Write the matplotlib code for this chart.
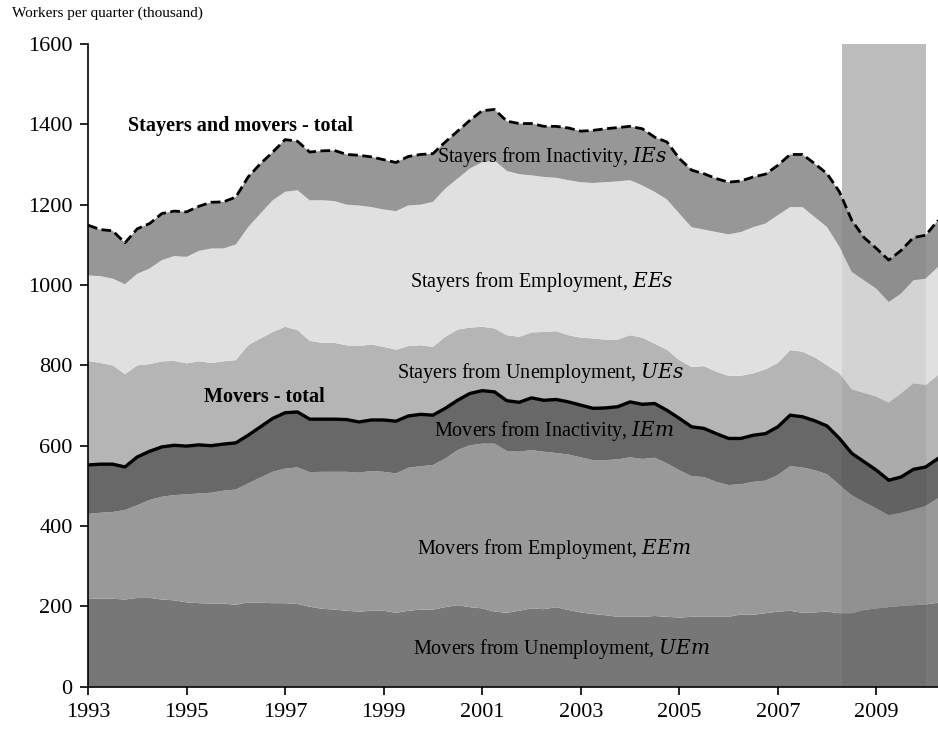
import numpy as np
import matplotlib.pyplot as plt
from matplotlib import rcParams as rcp

rcp['font.family'] = 'serif'
rcp['font.serif'] = ['Liberation Serif', 'DejaVu Serif']
rcp['mathtext.fontset'] = 'dejavuserif'

# quarterly, 1993Q1 .. 2010Q2 (thousand workers per quarter)
quarters = 1993 + 0.25 * np.arange(70)

ue_movers = [220, 219, 219, 217, 221, 221, 217, 215, 210, 208, 207, 207, 204, 210, 209, 208, 208, 206, 199, 194,
             192, 189, 187, 189, 189, 184, 189, 192, 192, 198, 203, 198, 195, 187, 184, 189, 195, 193, 198, 191,
             185, 181, 178, 174, 174, 174, 176, 174, 172, 174, 174, 174, 174, 180, 179, 183, 187, 189, 184, 185,
             187, 183, 183, 191, 195, 198, 201, 203, 205, 209]
ee_movers = [210, 214, 216, 223, 231, 244, 256, 262, 269, 273, 276, 281, 287, 296, 312, 327, 335, 340, 335, 341,
             343, 346, 346, 348, 346, 347, 356, 357, 360, 370, 386, 403, 410, 418, 403, 396, 394, 392, 384, 387,
             386, 383, 386, 392, 397, 393, 394, 382, 367, 350, 348, 336, 328, 324, 331, 330, 340, 360, 362, 354,
             342, 319, 294, 269, 249, 229, 232, 238, 245, 260]
ie_movers = [122, 121, 119, 107, 120, 121, 124, 124, 120, 121, 117, 116, 116, 120, 126, 133, 139, 138, 132, 131,
             131, 130, 126, 127, 129, 130, 129, 129, 124, 125, 124, 129, 132, 129, 125, 123, 130, 128, 133, 131,
             130, 129, 130, 131, 138, 136, 135, 132, 129, 123, 121, 120, 116, 114, 116, 117, 120, 127, 126, 123,
             120, 116, 104, 100, 95, 87, 89, 100, 97, 99]
ue_stayers = [259, 252, 246, 231, 228, 217, 213, 210, 206, 208, 206, 206, 206, 224, 220, 215, 214, 204, 195, 190,
              190, 185, 189, 188, 182, 178, 174, 172, 170, 178, 176, 164, 159, 158, 163, 163, 163, 170, 170, 166,
              168, 174, 170, 167, 166, 166, 149, 151, 145, 149, 155, 154, 156, 156, 154, 160, 159, 162, 162, 158,
              151, 162, 159, 171, 183, 193, 208, 214, 204, 208]
ee_stayers = [213, 216, 216, 224, 228, 238, 252, 261, 265, 275, 285, 281, 288, 294, 311, 328, 336, 348, 350, 355,
              353, 350, 350, 342, 342, 345, 350, 350, 361, 369, 376, 396, 410, 418, 409, 405, 391, 386, 382, 386,
              387, 387, 392, 394, 386, 379, 378, 374, 365, 348, 340, 348, 352, 358, 364, 363, 368, 356, 360, 349,
              344, 315, 293, 281, 269, 251, 249, 257, 265, 269]
ie_stayers = [125, 116, 119, 103, 112, 112, 116, 112, 112, 111, 115, 116, 118, 125, 124, 120, 130, 122, 120, 123,
              126, 125, 125, 125, 124, 121, 122, 125, 120, 116, 118, 120, 128, 127, 124, 126, 129, 126, 128, 130,
              127, 131, 133, 134, 134, 141, 136, 143, 137, 142, 139, 133, 130, 127, 125, 123, 124, 131, 131, 133,
              133, 137, 128, 106, 100, 104, 107, 106, 108, 116]

layers = [ue_movers, ee_movers, ie_movers, ue_stayers, ee_stayers, ie_stayers]
colors = ['#777777', '#999999', '#686868', '#b5b5b5', '#e0e0e0', '#979797']

recession = (2008.31, 2010.0)

movers_total = np.sum(layers[:3], axis=0)
grand_total = np.sum(layers, axis=0)

fig = plt.figure(figsize=(9.38, 7.29), dpi=100)
ax = fig.add_axes([88/938, 1-686.7/729, 850/938, 642.7/729])

ax.axvspan(*recession, color='#c9c9c9', lw=0, zorder=0)
ax.stackplot(quarters, *layers, colors=colors, lw=0, zorder=1)
ax.axvspan(*recession, color='black', alpha=0.055, lw=0, zorder=2)

ax.plot(quarters, movers_total, color='black', lw=2.4, zorder=4)
ax.plot(quarters, grand_total, color='black', lw=2, dashes=(3.5, 1.6), zorder=4)

# labels
lab = dict(ha='center', va='center', fontsize=14.5, zorder=5)
ax.text(2002.41, 1319, 'Stayers from Inactivity, $IEs$', **lab)
ax.text(2002.21, 1008, 'Stayers from Employment, $EEs$', **lab)
ax.text(2002.18, 780, 'Stayers from Unemployment, $UEs$', **lab)
ax.text(2002.46, 636, 'Movers from Inactivity, $IEm$', **lab)
ax.text(2002.45, 344, 'Movers from Employment, $EEm$', **lab)
ax.text(2002.61, 93, 'Movers from Unemployment, $UEm$', **lab)
ax.text(1993.82, 1397, 'Stayers and movers - total', ha='left', va='center',
        fontsize=14.5, fontweight='bold', zorder=5)
ax.text(1995.35, 720, 'Movers - total', ha='left', va='center',
        fontsize=14.5, fontweight='bold', zorder=5)

ax.set_xlim(1993, quarters[-1])
ax.set_ylim(0, 1600)
ax.set_xticks(np.arange(1993, 2010, 2))
ax.set_yticks(np.arange(0, 1601, 200))
for s in ['top', 'right']:
    ax.spines[s].set_visible(False)
for s in ['left', 'bottom']:
    ax.spines[s].set_linewidth(1.2)
    ax.spines[s].set_zorder(6)
ax.tick_params(direction='out', length=6, width=1.2, labelsize=16)
ax.tick_params(axis='y', pad=5)
ax.tick_params(axis='x', pad=6)

fig.text(12/938, 1-13/729, 'Workers per quarter (thousand)', ha='left', va='center', fontsize=11)

fig.savefig('out.png', dpi=100)
